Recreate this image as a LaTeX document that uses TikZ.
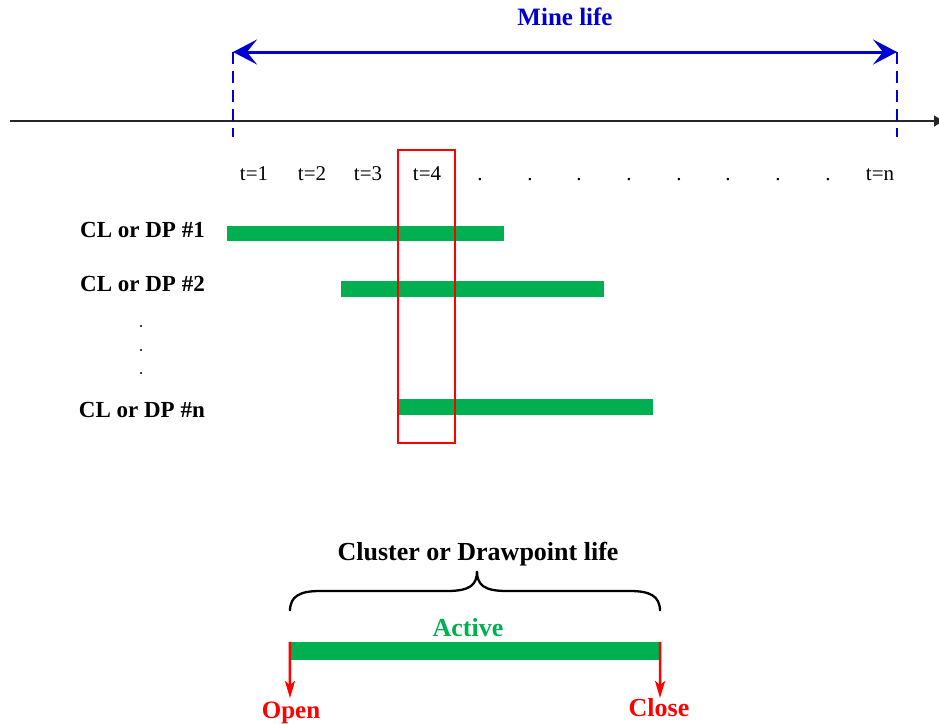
\documentclass[tikz,border=0pt]{standalone}
\usepackage{fontspec}
\setmainfont{Liberation Serif}
\usetikzlibrary{arrows.meta}
\definecolor{actgreen}{RGB}{0,176,80}
\definecolor{lifeblue}{RGB}{0,0,210}
\definecolor{markred}{RGB}{255,0,0}
\tikzset{
  lbl/.style={inner sep=0pt, anchor=base, font=\fontsize{21}{24}\selectfont},
  rowlbl/.style={inner sep=0pt, anchor=base east, font=\bfseries\fontsize{23}{26}\selectfont},
  biglbl/.style={inner sep=0pt, anchor=base, font=\bfseries\fontsize{26}{30}\selectfont},
  bar/.style={fill=actgreen, draw=none},
  guide/.style={lifeblue, line width=1.8pt, dash pattern=on 12pt off 7pt},
  bluetip/.tip={Stealth[length=24pt, width=25pt, inset=10pt]},
  redarrow/.style={markred, line width=2.5pt, -{Stealth[length=17pt, width=10pt, inset=4pt]}}
}
\begin{document}
\begin{tikzpicture}[x=1pt, y=-1pt]
  \useasboundingbox (0,0) rectangle (939,723);

  % time axis (its head runs off the right edge)
  \coordinate (axL) at (10,121);
  \coordinate (axR) at (943,121);
  \draw[black!85, line width=1.8pt, -{Triangle[length=9pt, width=11pt]}] (axL) -- (axR);

  % mine life span
  \coordinate (mlA) at (233,52);
  \coordinate (mlB) at (897,52);
  \coordinate (mlAb) at (233,137);
  \coordinate (mlBb) at (897,137);
  \draw[guide] (mlA) -- (mlAb);
  \draw[guide] (mlB) -- (mlBb);
  \draw[lifeblue, line width=3pt, bluetip-bluetip] (mlA) -- (mlB);
  \node[biglbl, lifeblue, font=\bfseries\fontsize{25}{29}\selectfont] (minelife) at (565,25) {Mine life};

  % time step labels
  \node[lbl] (t1) at (254,180) {t=1};
  \node[lbl] (t2) at (312,180) {t=2};
  \node[lbl] (t3) at (368,180) {t=3};
  \node[lbl] (t4) at (427,180) {t=4};
  \foreach \x [count=\i] in {480,530,579,629,679,728,778,828}
    \node[lbl] (dot\i) at (\x,180) {.};
  \node[lbl] (tn) at (880,180) {t=n};

  % activity bars per cluster / drawpoint
  \node[rowlbl] (row1) at (205,237) {CL or DP \#1};
  \node[rowlbl] (row2) at (205,291) {CL or DP \#2};
  \node[rowlbl] (rown) at (205,417) {CL or DP \#n};
  \fill[bar] (227,226) rectangle (504,241);
  \fill[bar] (341,281) rectangle (604,297);
  \fill[bar] (398,399) rectangle (653,415);
  \foreach \y in {326,350,373}
    \fill (141,\y) circle (1.2pt);

  % current period highlight
  \draw[markred, line width=2.2pt] (398,150) rectangle (455,443);

  % life of a single cluster or drawpoint
  \node[biglbl] (cdlife) at (478,560) {Cluster or Drawpoint life};
  \draw[black, line width=2.3pt]
    (290,611) .. controls (290,596) and (300,591) .. (320,591)
    -- (447,591) .. controls (470,591) and (477,585) .. (477,571)
    .. controls (477,585) and (484,591) .. (507,591)
    -- (630,591) .. controls (650,591) and (660,596) .. (660,611);
  \node[biglbl, actgreen] (active) at (468,636) {Active};
  \node[bar, inner sep=0pt, minimum width=370pt, minimum height=18pt] (activebar) at (475,651) {};
  \coordinate (openend) at (290,698);
  \coordinate (closeend) at (660,698);
  \draw[redarrow] (activebar.north west) -- (openend);
  \draw[redarrow] (activebar.north east) -- (closeend);
  \node[biglbl, markred, font=\bfseries\fontsize{25}{29}\selectfont] (open) at (291,718) {Open};
  \node[biglbl, markred] (close) at (659,716) {Close};
\end{tikzpicture}
\end{document}
